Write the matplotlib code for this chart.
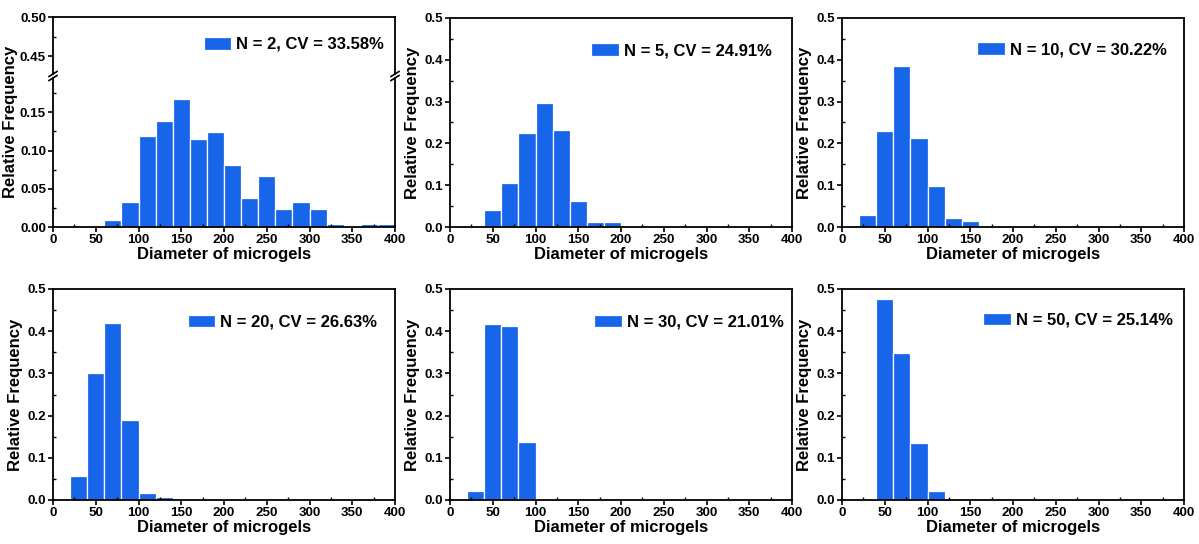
import matplotlib
matplotlib.use("Agg")
import matplotlib.pyplot as plt
import numpy as np
from matplotlib.ticker import MultipleLocator

plt.rcParams["font.family"] = ["Liberation Sans", "DejaVu Sans"]
plt.rcParams["font.weight"] = "bold"
plt.rcParams["axes.labelweight"] = "bold"
plt.rcParams["axes.linewidth"] = 1.3

# bin left edges (bin width 20)
bin_edges = np.arange(0, 400, 20)
bin_width = 20

freq_n2 = [0, 0, 0, 0.0087, 0.0326, 0.1196, 0.139, 0.167, 0.115, 0.124,
           0.0813, 0.0378, 0.067, 0.0235, 0.033, 0.0235, 0.0043, 0, 0.0043, 0.0043]
freq_n5 = [0, 0, 0.040, 0.1056, 0.225, 0.296, 0.232, 0.0624, 0.012, 0.012,
           0, 0, 0, 0, 0, 0, 0, 0, 0, 0]
freq_n10 = [0, 0.028, 0.229, 0.386, 0.214, 0.099, 0.021, 0.0135, 0, 0,
            0, 0, 0, 0, 0, 0, 0, 0, 0, 0]
freq_n20 = [0, 0.058, 0.300, 0.419, 0.190, 0.0176, 0.008, 0, 0, 0,
            0, 0, 0, 0, 0, 0, 0, 0, 0, 0]
freq_n30 = [0, 0.022, 0.417, 0.412, 0.138, 0, 0, 0, 0, 0,
            0, 0, 0, 0, 0, 0, 0, 0, 0, 0]
freq_n50 = [0, 0.003, 0.477, 0.348, 0.134, 0.0205, 0.003, 0, 0, 0,
            0, 0, 0, 0, 0, 0, 0, 0, 0, 0]

labels = ["N = 2, CV = 33.58%", "N = 5, CV = 24.91%", "N = 10, CV = 30.22%",
          "N = 20, CV = 26.63%", "N = 30, CV = 21.01%", "N = 50, CV = 25.14%"]
series = [freq_n2, freq_n5, freq_n10, freq_n20, freq_n30, freq_n50]

BAR_COLOR = "#1766EA"
TICK_FS = 9.6
LABEL_FS = 12

fig = plt.figure(figsize=(11.99, 5.44), dpi=100)

W, H = 1199, 544
col_left = [53, 450, 842]
ax_w = 342
row_top = [18, 289]
row_bot = [227, 500]


def px_rect(left, top, width, height):
    return [left / W, 1 - (top + height) / H, width / W, height / H]


def draw_bars(ax, freq, label):
    freq = np.asarray(freq)
    mask = freq > 0
    ax.bar(bin_edges[mask], freq[mask], width=bin_width, align="edge",
           color=BAR_COLOR, edgecolor="white", linewidth=0.9, label=label)


def style_ticks(ax):
    ax.tick_params(which="major", direction="out", length=3.5, width=1.2,
                   labelsize=TICK_FS, pad=1.5)
    ax.tick_params(which="minor", direction="in", length=2.5, width=1.0)
    ax.tick_params(top=False, right=False, which="both")
    for lab in ax.get_xticklabels() + ax.get_yticklabels():
        lab.set_fontweight("bold")


def style_x(ax):
    ax.set_xlim(0, 400)
    ax.xaxis.set_major_locator(MultipleLocator(50))
    ax.xaxis.set_minor_locator(MultipleLocator(25))
    ax.set_xlabel("Diameter of microgels", fontsize=LABEL_FS, labelpad=0.5)


def add_legend(ax, loc, anchor):
    ax.legend(loc=loc, bbox_to_anchor=anchor, frameon=False,
              fontsize=LABEL_FS, handlelength=1.65, handleheight=0.8,
              handletextpad=0.3, borderaxespad=0)


# ---- panel 1: broken y axis ----
top_px, bot_px = row_top[0], row_bot[0]
brk = 76
ax_top = fig.add_axes(px_rect(col_left[0], top_px - 1, ax_w, brk - 2 - (top_px - 1)))
ax_bot = fig.add_axes(px_rect(col_left[0], brk + 2, ax_w, bot_px - brk - 2))
for ax in (ax_top, ax_bot):
    draw_bars(ax, freq_n2, labels[0])
    ax.set_xlim(0, 400)
ax_top.set_ylim(0.427, 0.50)
ax_bot.set_ylim(0, 0.195)
ax_top.yaxis.set_major_locator(MultipleLocator(0.05))
ax_top.yaxis.set_minor_locator(MultipleLocator(0.025))
ax_top.yaxis.set_major_formatter(plt.FormatStrFormatter("%.2f"))
ax_bot.yaxis.set_major_locator(MultipleLocator(0.05))
ax_bot.yaxis.set_minor_locator(MultipleLocator(0.025))
ax_bot.yaxis.set_major_formatter(plt.FormatStrFormatter("%.2f"))
ax_top.spines["bottom"].set_visible(False)
ax_bot.spines["top"].set_visible(False)
style_x(ax_bot)
style_ticks(ax_top)
style_ticks(ax_bot)
ax_top.tick_params(axis="x", which="both", bottom=False, labelbottom=False)
add_legend(ax_top, "center right", (0.988, 0.52))
fig.text(11 / W, 1 - 122 / H, "Relative Frequency", rotation=90,
         ha="center", va="center", fontsize=LABEL_FS, fontweight="bold")
# break marks
for xpx in (col_left[0], col_left[0] + ax_w):
    for dy in (-2.0, 2.0):
        x0, x1 = (xpx - 4) / W, (xpx + 4) / W
        y0, y1 = 1 - (brk + dy + 2.5) / H, 1 - (brk + dy - 2.5) / H
        fig.add_artist(plt.Line2D([x0, x1], [y0, y1], color="black", lw=1.2))

# ---- panels 2-6 ----
slots = [(0, 1), (0, 2), (1, 0), (1, 1), (1, 2)]
anchors = [(0.96, 0.91), (0.968, 0.915), (0.968, 0.91), (0.995, 0.91), (0.986, 0.92)]
for k, (r, c) in enumerate(slots):
    idx = k + 1
    ax = fig.add_axes(px_rect(col_left[c], row_top[r], ax_w,
                              row_bot[r] - row_top[r]))
    draw_bars(ax, series[idx], labels[idx])
    style_x(ax)
    ax.set_ylim(0, 0.5)
    ax.yaxis.set_major_locator(MultipleLocator(0.1))
    ax.yaxis.set_minor_locator(MultipleLocator(0.05))
    ax.yaxis.set_major_formatter(plt.FormatStrFormatter("%.1f"))
    ax.set_ylabel("Relative Frequency", fontsize=LABEL_FS, labelpad=3)
    style_ticks(ax)
    add_legend(ax, "upper right", anchors[k])

fig.savefig("out.png", dpi=100)
